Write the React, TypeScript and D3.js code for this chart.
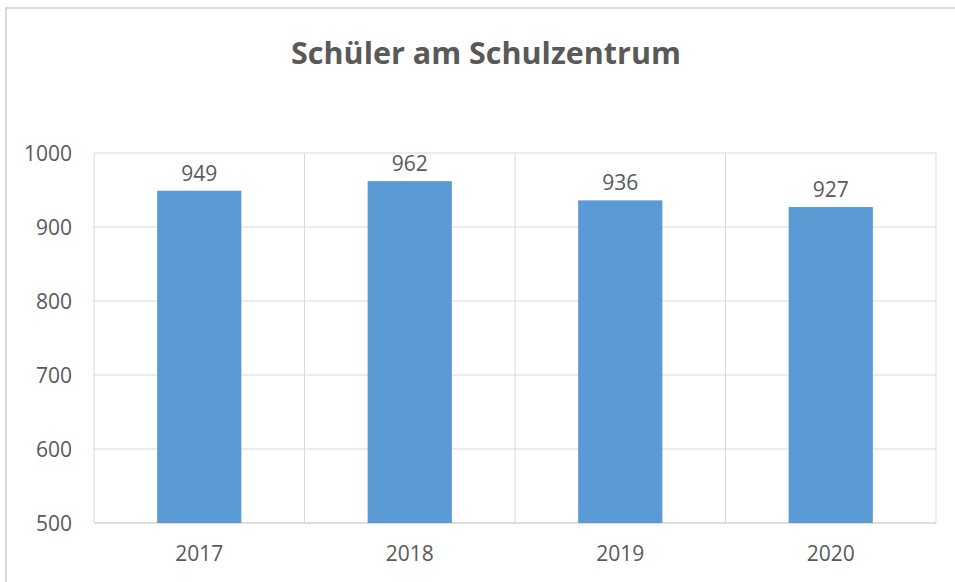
import React from "react";
import * as d3 from "d3";

const categories = ["2017", "2018", "2019", "2020"];
const values = [949, 962, 936, 927];
const yTicks = [500, 600, 700, 800, 900, 1000];
const title = "Schüler am Schulzentrum";

export default function App() {
  const W = 955, H = 582;
  const left = 94, right = 936, top = 153, bottom = 523;
  const x = d3.scaleBand<string>().domain(categories).range([left, right]).paddingInner(0).paddingOuter(0);
  const y = d3.scaleLinear().domain([500, 1000]).range([bottom, top]);
  const bw = x.bandwidth() * 0.4;
  const font = "'Open Sans', 'Noto Sans', sans-serif";
  const textColor = "#595959";
  return (
    <svg width={W} height={H} style={{ position: "fixed", left: 0, top: 0, background: "#fff" }}>
      <rect x={6} y={8} width={W + 10} height={H + 10} fill="#fff" stroke="#d9d9d9" strokeWidth={2} />
      <text x={486} y={64} textAnchor="middle" fontFamily={font} fontWeight="bold" fontSize={30.5} fill={textColor}>
        {title}
      </text>
      {yTicks.map((t) => (
        <line key={"h" + t} x1={left} x2={right} y1={y(t)} y2={y(t)} stroke={t === 500 ? "#bfbfbf" : "#d9d9d9"} strokeWidth={1} />
      ))}
      {categories.map((c) => (
        <line key={"v" + c} x1={(x(c) as number) + x.bandwidth()} x2={(x(c) as number) + x.bandwidth()} y1={top} y2={bottom} stroke="#d9d9d9" strokeWidth={1} />
      ))}
      <line x1={left} x2={left} y1={top} y2={bottom} stroke="#d9d9d9" strokeWidth={1} />
      {categories.map((c, i) => {
        const cx = (x(c) as number) + x.bandwidth() / 2;
        return (
          <g key={c}>
            <rect x={cx - bw / 2} y={y(values[i])} width={bw} height={bottom - y(values[i])} fill="#5B9BD5" />
            <text x={cx} y={y(values[i]) - 10} textAnchor="middle" fontFamily={font} fontSize={21} fill={textColor}>
              {values[i]}
            </text>
            <text x={cx} y={561} textAnchor="middle" fontFamily={font} fontSize={21} fill={textColor}>
              {c}
            </text>
          </g>
        );
      })}
      {yTicks.map((t) => (
        <text key={"t" + t} x={72} y={y(t) + 7.5} textAnchor="end" fontFamily={font} fontSize={21} fill={textColor}>
          {t}
        </text>
      ))}
    </svg>
  );
}
